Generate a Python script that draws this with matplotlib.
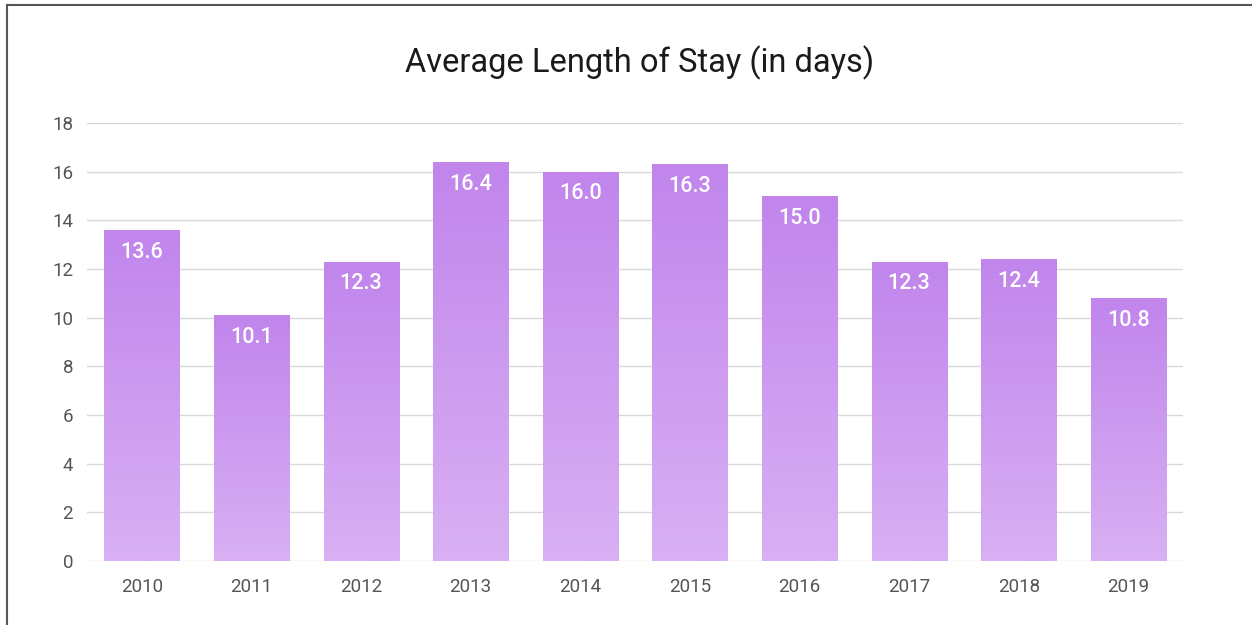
import matplotlib
matplotlib.use('Agg')
import matplotlib.pyplot as plt
import numpy as np
from matplotlib.colors import LinearSegmentedColormap
from matplotlib.lines import Line2D

years = ['2010', '2011', '2012', '2013', '2014', '2015', '2016', '2017', '2018', '2019']
avg_stay = [13.6, 10.1, 12.3, 16.4, 16.0, 16.3, 15.0, 12.3, 12.4, 10.8]
y_ticks = [0, 2, 4, 6, 8, 10, 12, 14, 16, 18]

plt.rcParams['font.family'] = ['Roboto', 'DejaVu Sans']

fig = plt.figure(figsize=(12.52, 6.25), dpi=100)
ax = fig.add_axes([0.0695, 0.1024, 0.8755, 0.7008])

# gradient from darker purple at the top of each bar to lighter at the bottom
cmap = LinearSegmentedColormap.from_list('stay', ['#d8b0f3', '#c185ec'])
grad = np.linspace(0, 1, 256).reshape(-1, 1)

x = np.arange(len(years))
bars = ax.bar(x, avg_stay, width=0.685, facecolor='none', edgecolor='none', zorder=2)
for bar, val in zip(bars, avg_stay):
    x0 = bar.get_x()
    x1 = x0 + bar.get_width()
    im = ax.imshow(grad, extent=[x0, x1, 0, val], origin='lower', aspect='auto',
                   cmap=cmap, zorder=2)
    im.set_clip_path(bar)
    ax.annotate(f'{val:.1f}', xy=(bar.get_x() + bar.get_width() / 2, val),
                xytext=(0, -16), textcoords='offset points', ha='center',
                va='center', color='white', fontsize=15.5, fontweight='medium',
                zorder=3)

ax.set_xlim(-0.5, 9.5)
ax.set_ylim(0, 18)
ax.set_yticks(y_ticks)
ax.set_xticks(x)
ax.set_xticklabels(years)
ax.grid(axis='y', color='#d9d9d9', linewidth=1, zorder=0)
ax.set_axisbelow(True)
for side in ['top', 'right', 'left', 'bottom']:
    ax.spines[side].set_visible(False)
ax.tick_params(axis='both', length=0, labelsize=13.5, labelcolor='#555555')
ax.tick_params(axis='y', pad=10)
ax.tick_params(axis='x', pad=12)

fig.text(0.511, 0.899, 'Average Length of Stay (in days)', ha='center', va='center',
         fontsize=23.5, color='#1a1a1a')

# frame lines on the left and top edge of the picture
fig.add_artist(Line2D([7 / 1252, 7 / 1252], [0, 1 - 5 / 625], color='#555555', linewidth=1.5))
fig.add_artist(Line2D([7 / 1252, 1], [1 - 5 / 625, 1 - 5 / 625], color='#555555', linewidth=1.5))

fig.savefig('out.png', dpi=100)
